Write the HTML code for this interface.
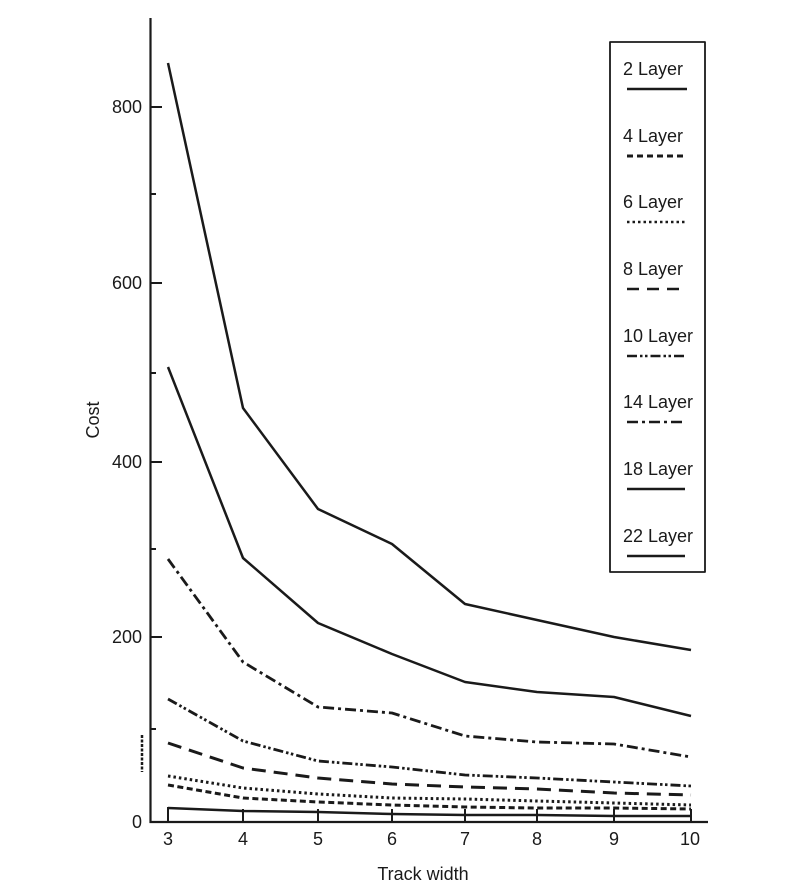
<!DOCTYPE html>
<html>
<head>
<meta charset="utf-8">
<style>
html,body{margin:0;padding:0;background:#fff;}
svg{display:block;}
text{font-family:"Liberation Sans",Arial,sans-serif;fill:#1a1a1a;}
</style>
</head>
<body>
<svg width="800" height="887" viewBox="0 0 800 887" xmlns="http://www.w3.org/2000/svg">
<rect width="800" height="887" fill="#fff"/>
<g stroke="#1a1a1a" fill="none" stroke-linejoin="round">
  <!-- axes -->
  <line x1="150.5" y1="18" x2="150.5" y2="823" stroke-width="2.2"/>
  <line x1="149.5" y1="822" x2="708" y2="822" stroke-width="2.2"/>
  <!-- y ticks major -->
  <line x1="150" y1="107" x2="162" y2="107" stroke-width="2"/>
  <line x1="150" y1="283" x2="162" y2="283" stroke-width="2"/>
  <line x1="150" y1="462" x2="162" y2="462" stroke-width="2"/>
  <line x1="150" y1="637" x2="162" y2="637" stroke-width="2"/>
  <!-- y ticks minor -->
  <line x1="150" y1="194" x2="156" y2="194" stroke-width="2"/>
  <line x1="150" y1="373" x2="156" y2="373" stroke-width="2"/>
  <line x1="150" y1="549" x2="156" y2="549" stroke-width="2"/>
  <line x1="150" y1="729" x2="156" y2="729" stroke-width="2"/>
  <!-- x ticks -->
  <line x1="168" y1="822" x2="168" y2="807" stroke-width="2"/>
  <line x1="243" y1="822" x2="243" y2="809" stroke-width="2"/>
  <line x1="318" y1="822" x2="318" y2="809" stroke-width="2"/>
  <line x1="392" y1="822" x2="392" y2="809" stroke-width="2"/>
  <line x1="465" y1="822" x2="465" y2="809" stroke-width="2"/>
  <line x1="537" y1="822" x2="537" y2="809" stroke-width="2"/>
  <line x1="614" y1="822" x2="614" y2="809" stroke-width="2"/>
  <line x1="691" y1="822" x2="691" y2="809" stroke-width="2"/>

  <!-- 22 Layer -->
  <polyline stroke-width="2.5" points="168,63 243,408 318,509 392,544 465,604 537,620 614,637 691,650"/>
  <!-- 18 Layer -->
  <polyline stroke-width="2.5" points="168,367 243,558 318,623 392,654 465,682 537,692 614,697 691,716"/>
  <!-- 14 Layer dash-dot -->
  <polyline stroke-width="2.8" stroke-dasharray="11,4,3,4" points="168,559 243,662 318,707 392,713 465,736 537,742 614,744 691,757"/>
  <!-- 10 Layer dash-dot-dot -->
  <polyline stroke-width="2.8" stroke-dasharray="10,3,2.5,2.5,2.5,3" points="168,699 243,741 318,761 392,767 465,775 537,778 614,782 691,786"/>
  <!-- 8 Layer long dash -->
  <polyline stroke-width="3" stroke-dasharray="14,8" points="168,743 243,768 318,778 392,784 465,787 537,789 614,793 691,795"/>
  <!-- 6 Layer dotted -->
  <polyline stroke-width="3" stroke-dasharray="2.5,3" points="168,776 243,788 318,794 392,798 465,799 537,801 614,803 691,805"/>
  <!-- 4 Layer short dash -->
  <polyline stroke-width="3" stroke-dasharray="6,3.5" points="168,785 243,798 318,802 392,805 465,807 537,808 614,808 691,809"/>
  <!-- 2 Layer -->
  <polyline stroke-width="2.5" points="168,808 243,811 318,812 392,814 465,815 537,815 614,816 691,816"/>

  <!-- small artifact -->
  <line x1="142" y1="735" x2="142" y2="772" stroke-width="2.5" stroke-dasharray="3,1.5"/>

  <!-- legend box -->
  <rect x="610" y="42" width="95" height="530" stroke-width="1.8"/>
  <line x1="627" y1="89" x2="687" y2="89" stroke-width="2.5"/>
  <line x1="627" y1="156" x2="687" y2="156" stroke-width="3" stroke-dasharray="6,4"/>
  <line x1="627" y1="222" x2="687" y2="222" stroke-width="2.5" stroke-dasharray="2.5,3"/>
  <line x1="627" y1="289" x2="687" y2="289" stroke-width="2.5" stroke-dasharray="12,8"/>
  <line x1="627" y1="356" x2="685" y2="356" stroke-width="2.5" stroke-dasharray="10,3,2.5,2.5,2.5,3"/>
  <line x1="627" y1="422" x2="685" y2="422" stroke-width="2.5" stroke-dasharray="11,4,3,4"/>
  <line x1="627" y1="489" x2="685" y2="489" stroke-width="2.5"/>
  <line x1="627" y1="556" x2="685" y2="556" stroke-width="2.5"/>
</g>

<!-- y labels -->
<g font-size="18" text-anchor="end">
  <text x="142" y="113">800</text>
  <text x="142" y="289">600</text>
  <text x="142" y="468">400</text>
  <text x="142" y="643">200</text>
  <text x="142" y="828">0</text>
</g>
<!-- x labels -->
<g font-size="18" text-anchor="middle">
  <text x="168" y="845">3</text>
  <text x="243" y="845">4</text>
  <text x="318" y="845">5</text>
  <text x="392" y="845">6</text>
  <text x="465" y="845">7</text>
  <text x="537" y="845">8</text>
  <text x="614" y="845">9</text>
  <text x="690" y="845">10</text>
  <text x="423" y="880">Track width</text>
</g>
<text font-size="18" text-anchor="middle" transform="translate(99,420) rotate(-90)">Cost</text>

<!-- legend labels -->
<g font-size="18">
  <text x="623" y="75">2 Layer</text>
  <text x="623" y="142">4 Layer</text>
  <text x="623" y="208">6 Layer</text>
  <text x="623" y="275">8 Layer</text>
  <text x="623" y="342">10 Layer</text>
  <text x="623" y="408">14 Layer</text>
  <text x="623" y="475">18 Layer</text>
  <text x="623" y="542">22 Layer</text>
</g>
</svg>
</body>
</html>
